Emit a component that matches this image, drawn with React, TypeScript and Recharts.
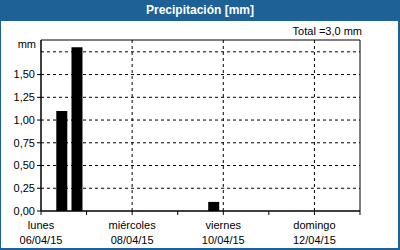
import React from 'react';
import { BarChart, Bar, XAxis, YAxis, CartesianGrid, ReferenceLine, ReferenceArea } from 'recharts';

// hours since lunes 06/04/15 00:00
const hours = [11, 19, 91];
const precip = [1.1, 1.8, 0.1];
const yTicks = [0, 0.25, 0.5, 0.75, 1.0, 1.25, 1.5];
const yGrid = [0.25, 0.5, 0.75, 1.0, 1.25, 1.5, 1.75];
const xTicks = [0, 24, 48, 72, 96, 120, 144, 168];
const dayNames: Record<number, string> = { 0: 'lunes', 48: 'miércoles', 96: 'viernes', 144: 'domingo' };
const dayDates: Record<number, string> = { 0: '06/04/15', 48: '08/04/15', 96: '10/04/15', 144: '12/04/15' };
const gridDays = [48, 96, 144];
const title = 'Precipitación [mm]';
const totalLabel = 'Total =3,0 mm';
const unitLabel = 'mm';

const data = hours.map((h, i) => ({ h, v: precip[i] }));

const FONT = '"Liberation Sans", Arial, sans-serif';
const BLUE = '#1e6196';

const XTick = (props: any) => {
  const { x, y, payload } = props;
  const name = dayNames[payload.value];
  if (!name) return null;
  return (
    <g>
      <text x={x} y={y + 12} textAnchor="middle" fontFamily={FONT} fontSize={11} fill="#000">{name}</text>
      <text x={x} y={y + 27} textAnchor="middle" fontFamily={FONT} fontSize={11} fill="#000">{dayDates[payload.value]}</text>
    </g>
  );
};

export default function App() {
  return (
    <div style={{ position: 'absolute', left: 0, top: 0, width: 400, height: 250, background: '#fff', overflow: 'hidden' }}>
      <BarChart width={400} height={250} data={data} margin={{ top: 40, right: 40, bottom: 0, left: 8 }}>
        <CartesianGrid vertical={false} stroke="#000" strokeDasharray="3 3" horizontalValues={yGrid} />
        {gridDays.map((d) => (
          <ReferenceLine key={d} x={d} stroke="#000" strokeDasharray="3 3" />
        ))}
        <XAxis
          type="number"
          dataKey="h"
          domain={[0, 168]}
          ticks={xTicks}
          interval={0}
          height={39}
          tickSize={4}
          tickLine={{ stroke: '#000' }}
          axisLine={{ stroke: '#000' }}
          tick={<XTick />}
        />
        <YAxis
          type="number"
          domain={[0, 1.88]}
          ticks={yTicks}
          interval={0}
          width={33}
          tickSize={4}
          tickMargin={2}
          tickLine={{ stroke: '#000' }}
          axisLine={{ stroke: '#000' }}
          tick={{ fill: '#000', fontFamily: FONT, fontSize: 11 }}
          tickFormatter={(v: number) => v.toFixed(2).replace('.', ',')}
        />
        <ReferenceArea x1={0} x2={168} y1={0} y2={1.88} fill="none" stroke="#000" strokeOpacity={1} fillOpacity={0} />
        <Bar dataKey="v" fill="#000" barSize={11} isAnimationActive={false} />
      </BarChart>
      <div style={{ position: 'absolute', left: 0, top: 0, width: 400, height: 21, background: BLUE, color: '#fff', fontFamily: FONT, fontWeight: 'bold', fontSize: 12, textAlign: 'center', lineHeight: '21px' }}>{title}</div>
      <div style={{ position: 'absolute', right: 38, top: 24, fontFamily: FONT, fontSize: 11, color: '#000', lineHeight: '14px' }}>{totalLabel}</div>
      <div style={{ position: 'absolute', right: 364, top: 37, fontFamily: FONT, fontSize: 11, color: '#000', lineHeight: '14px' }}>{unitLabel}</div>
      <div style={{ position: 'absolute', left: 0, top: 0, width: 1, height: 250, background: BLUE }} />
      <div style={{ position: 'absolute', right: 0, top: 0, width: 2, height: 250, background: BLUE }} />
      <div style={{ position: 'absolute', left: 0, bottom: 0, width: 400, height: 2, background: BLUE }} />
    </div>
  );
}
